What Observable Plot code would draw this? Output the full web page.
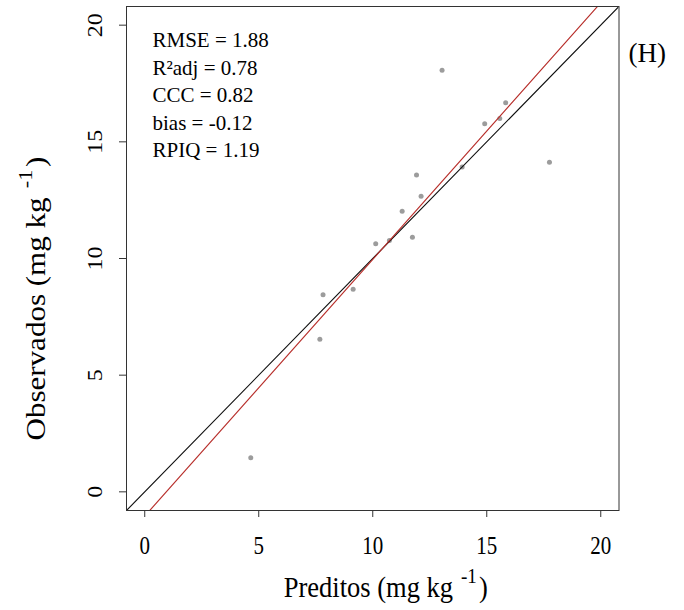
<!DOCTYPE html>
<html>
<head>
<meta charset="utf-8">
<script src="https://cdn.jsdelivr.net/npm/d3@7"></script>
<script src="https://cdn.jsdelivr.net/npm/@observablehq/plot@0.6"></script>
<style>
  html, body { margin: 0; padding: 0; background: #fff; }
  svg text { font-family: "Liberation Serif", "Times New Roman", serif; }
</style>
</head>
<body>
<div id="chart"></div>
<script>
// ---- data ----
const preditos  = [4.65, 7.68, 7.82, 9.14, 10.13, 10.73, 11.29, 11.74, 11.92, 12.12, 13.04, 13.92, 14.91, 15.57, 15.83, 17.75];
const observados = [1.46, 6.54, 8.45, 8.68, 10.63, 10.77, 12.03, 10.91, 13.58, 12.67, 18.07, 13.92, 15.78, 16.00, 16.68, 14.13];
const xTicks = [0, 5, 10, 15, 20];
const yTicks = [0, 5, 10, 15, 20];
const dataRange = [0, 20];
const fitIntercept = -1.04;
const fitSlope = 1.10;
const statsLabels = ["RMSE = 1.88", "R\u00B2adj = 0.78", "CCC = 0.82", "bias = -0.12", "RPIQ = 1.19"];
const panelLabel = "(H)";
const xLabelParts = ["Preditos (mg kg", "-1", ")"];
const yLabelParts = ["Observados (mg kg", "-1", ")"];

const serif = "Liberation Serif";

// R-style 4% expansion of the axis range
const pad = (dataRange[1] - dataRange[0]) * 0.04;
const domain = [dataRange[0] - pad, dataRange[1] + pad];

const points = preditos.map((p, i) => ({pred: p, obs: observados[i]}));
const oneToOne = domain.map(x => ({x, y: x}));
const fitLine = domain.map(x => ({x, y: fitIntercept + fitSlope * x}));

const xLabelText = xLabelParts.join(" ");
const yLabelText = yLabelParts.join(" ");

const svg = Plot.plot({
  width: 684,
  height: 610,
  marginLeft: 126,
  marginRight: 65.5,
  marginTop: 6,
  marginBottom: 100,
  style: {fontFamily: serif, color: "black", background: "white"},
  x: {domain, range: [126, 618.5]},
  y: {domain, range: [510, 6]},
  marks: [
    Plot.dot(points, {x: "pred", y: "obs", r: 2.5, fill: "#9c9c9c", stroke: "none"}),
    Plot.line(oneToOne, {x: "x", y: "y", stroke: "#111", strokeWidth: 1.15, clip: true}),
    Plot.line(fitLine, {x: "x", y: "y", stroke: "#b8302c", strokeWidth: 1.15, clip: true}),
    Plot.frame({stroke: "#333", strokeWidth: 1}),
    Plot.axisX(xTicks, {tickSize: 7, tickPadding: 19, fontSize: 21, fontFamily: serif, label: null, stroke: "#333"}),
    Plot.axisY(yTicks, {tickSize: 7, tickPadding: 18, tickRotate: -90, fontSize: 20, fontFamily: serif, label: null, stroke: "#333"}),
    Plot.text([statsLabels.join("\n")], {
      frameAnchor: "top-left", textAnchor: "start", lineAnchor: "top", fontFamily: serif,
      lineHeight: 1.31, fontSize: 21, dx: 26, dy: 21.2
    }),
    Plot.text([panelLabel], {
      frameAnchor: "top-right", textAnchor: "start", lineAnchor: "bottom", fontFamily: serif,
      fontSize: 27, dx: 9.5, dy: 55.7
    }),
    Plot.text([xLabelText], {
      frameAnchor: "bottom", textAnchor: "start", lineAnchor: "bottom", fontFamily: serif,
      fontSize: 26.5, dx: -89, dy: 86
    }),
    Plot.text([yLabelText], {
      frameAnchor: "left", textAnchor: "start", lineAnchor: "bottom", rotate: -90, fontFamily: serif,
      fontSize: 27, dx: -82, dy: 182
    })
  ]
});

// the reference was stretched vertically: stretch the R-drawn texts likewise
function addTransform(selection, s) {
  selection.attr("transform", function () {
    return (this.getAttribute("transform") || "") + " " + s;
  });
}
function byContent(str) {
  return d3.select(svg).selectAll("text").filter(function () { return this.textContent === str; });
}
addTransform(d3.select(svg).selectAll('g[aria-label="x-axis tick label"] text'), "scale(1,1.2)");
addTransform(d3.select(svg).selectAll('g[aria-label="y-axis tick label"] text'), "scale(1.2,1)");

// R-style superscript unit (kg^-1)
function superscript(selection, parts, size) {
  selection.each(function () {
    const t = d3.select(this);
    t.text(null);
    t.append("tspan").text(parts[0]);
    t.append("tspan").attr("dx", 0.3 * size).attr("dy", -0.48 * size)
      .style("font-size", (0.72 * size) + "px").text(parts[1]);
    t.append("tspan").attr("dx", 0.08 * size).attr("dy", 0.48 * size).text(parts[2]);
  });
}
const xl = byContent(xLabelText);
const yl = byContent(yLabelText);
addTransform(xl, "scale(1,1.08)");
addTransform(yl, "scale(1.15,1)");
superscript(xl, xLabelParts, 26.5);
superscript(yl, yLabelParts, 27);

document.getElementById("chart").appendChild(svg);
</script>
</body>
</html>
